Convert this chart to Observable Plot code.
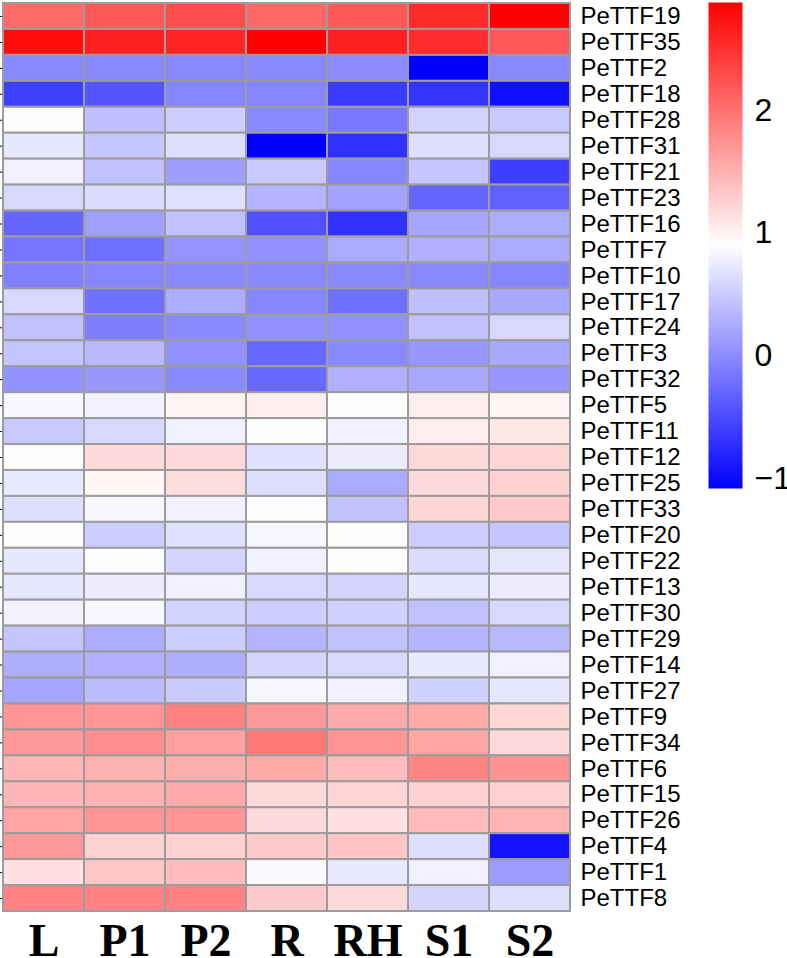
<!DOCTYPE html>
<html>
<head>
<meta charset="utf-8">
<script src="https://cdn.jsdelivr.net/npm/d3@7"></script>
<script src="https://cdn.jsdelivr.net/npm/@observablehq/plot@0.6"></script>
<style>
  html, body { margin: 0; padding: 0; background: #fff; }
  #chart { width: 787px; height: 958px; }
</style>
</head>
<body>
<div id="chart"></div>
<script>
const columns = ["L", "P1", "P2", "R", "RH", "S1", "S2"];
const genes = ["PeTTF19","PeTTF35","PeTTF2","PeTTF18","PeTTF28","PeTTF31","PeTTF21","PeTTF23","PeTTF16","PeTTF7",
  "PeTTF10","PeTTF17","PeTTF24","PeTTF3","PeTTF32","PeTTF5","PeTTF11","PeTTF12","PeTTF25","PeTTF33",
  "PeTTF20","PeTTF22","PeTTF13","PeTTF30","PeTTF29","PeTTF14","PeTTF27","PeTTF9","PeTTF34","PeTTF6",
  "PeTTF15","PeTTF26","PeTTF4","PeTTF1","PeTTF8"];

const valL  = [2.05,2.78,-0.02,-0.59,0.92,0.71,0.78,0.60,-0.29,-0.18,-0.09,0.59,0.42,0.45,0.06,0.84,0.48,0.91,0.73,0.64,0.91,0.71,0.71,0.80,0.45,0.27,0.20,1.73,1.69,1.47,1.47,1.60,1.70,1.13,1.86];
const valP1 = [2.20,2.62,-0.02,-0.42,0.41,0.46,0.42,0.62,0.16,-0.21,-0.04,-0.20,-0.10,0.35,0.10,0.79,0.60,1.19,0.97,0.84,0.51,0.88,0.76,0.84,0.26,0.29,0.38,1.72,1.78,1.50,1.50,1.72,1.25,1.34,1.87];
const valP2 = [2.29,2.59,-0.02,-0.05,0.51,0.64,0.15,0.65,0.42,0.07,-0.01,0.26,-0.01,0.04,-0.01,0.99,0.79,1.19,1.17,0.79,0.65,0.57,0.78,0.55,0.51,0.27,0.49,1.87,1.63,1.53,1.56,1.72,1.25,1.41,1.86];
const valR  = [2.07,2.88,-0.02,-0.05,-0.01,-1.08,0.48,0.32,-0.46,0.05,-0.02,-0.04,0.04,-0.27,-0.27,1.04,0.91,0.67,0.64,0.91,0.83,0.78,0.59,0.51,0.32,0.57,0.83,1.69,1.95,1.57,1.20,1.19,1.32,0.87,1.31];
const valRH = [2.19,2.63,0.00,-0.63,-0.15,-0.70,-0.04,0.18,-0.70,0.24,-0.01,-0.21,0.04,-0.02,0.29,0.91,0.79,0.76,0.24,0.42,0.92,0.92,0.57,0.54,0.42,0.60,0.78,1.56,1.72,1.41,1.23,1.13,1.35,0.73,1.19];
const valS1 = [2.55,2.53,-1.08,-0.68,0.55,0.64,0.45,-0.29,0.20,0.29,-0.02,0.41,0.42,0.09,0.23,1.04,1.04,1.20,1.19,1.23,0.51,0.62,0.71,0.42,0.32,0.73,0.54,1.57,1.60,1.85,1.26,1.43,0.64,0.78,0.57];
const valS2 = [2.88,2.20,-0.02,-0.96,0.48,0.59,-0.60,-0.33,0.26,0.24,-0.05,0.23,0.60,0.23,0.09,0.99,1.08,1.22,1.26,1.32,0.46,0.70,0.76,0.60,0.35,0.78,0.71,1.21,1.19,1.75,1.26,1.48,-0.93,0.13,0.64];

const legendTicks = [-1, 0, 1, 2];
const colorDomain = [-1.08, 0.9, 2.88];
const colorRange = ["#0000ff", "#ffffff", "#ff0000"];

const series = [valL, valP1, valP2, valR, valRH, valS1, valS2];
const data = [];
columns.forEach((c, i) => {
  genes.forEach((g, j) => data.push({col: c, gene: g, value: series[i][j]}));
});

const colorOpts = {type: "linear", domain: colorDomain, range: colorRange, interpolate: "rgb", clamp: true};
const fmt = d => (d < 0 ? "\u2212" + Math.abs(d) : String(d));

const main = Plot.plot({
  width: 787,
  height: 958,
  marginTop: 3,
  marginBottom: 47,
  marginLeft: 3,
  marginRight: 217,
  x: {domain: columns, padding: 0},
  y: {domain: genes, padding: 0},
  color: colorOpts,
  marks: [
    Plot.cell(data, {x: "col", y: "gene", fill: "value", stroke: "#9c9c9c", strokeWidth: 2, inset: 0}),
    Plot.axisX({anchor: "bottom", tickSize: 0, tickPadding: 12, fontSize: 46, fontFamily: "Liberation Serif, Times New Roman, serif", fontWeight: "bold", label: null}),
    Plot.axisY({anchor: "right", tickSize: 0, tickPadding: 10, fontSize: 24, fontFamily: "Liberation Sans, Arial, sans-serif", label: null, ariaLabel: "row-labels"})
  ]
});
d3.select(main).selectAll("g[aria-label='row-labels'] text").style("letter-spacing", "0.8px");

const legend = Plot.plot({
  width: 87,
  height: 490,
  marginTop: 2,
  marginBottom: 2,
  marginLeft: 8,
  marginRight: 45,
  x: {domain: [0, 1], axis: null},
  y: {domain: [colorDomain[0], colorDomain[2]], axis: null},
  color: colorOpts,
  marks: [
    Plot.raster({x1: 0, x2: 1, y1: colorDomain[0], y2: colorDomain[2], width: 1, height: 486, fill: (x, y) => y, imageRendering: "auto"}),
    Plot.axisY({anchor: "right", ticks: legendTicks, tickFormat: fmt, tickSize: 0, tickPadding: 12, fontSize: 32, fontFamily: "Liberation Sans, Arial, sans-serif", label: null})
  ]
});
legend.setAttribute("x", 700);
legend.setAttribute("y", 0);
legend.setAttribute("width", 87);
legend.setAttribute("height", 490);
legend.style.height = "490px";
legend.style.width = "87px";
legend.style.maxWidth = "none";
legend.style.overflow = "visible";
main.appendChild(legend);
document.getElementById("chart").appendChild(main);
</script>
</body>
</html>
